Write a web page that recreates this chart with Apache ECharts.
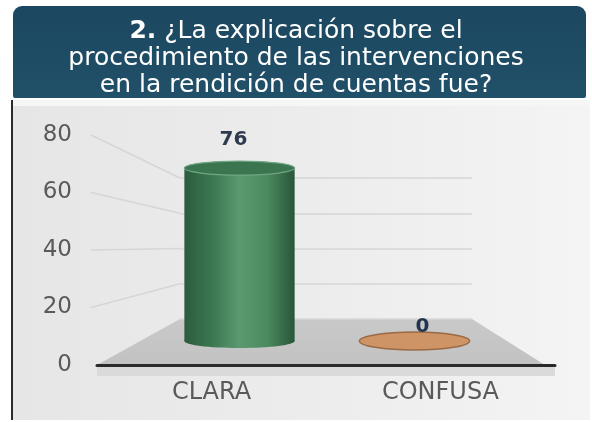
<!DOCTYPE html>
<html>
<head>
<meta charset="utf-8">
<script src="https://cdn.jsdelivr.net/npm/echarts@6/dist/echarts.min.js"></script>
<style>
html,body{margin:0;padding:0;background:#fff;}
#c{width:592px;height:422px;}
</style>
</head>
<body>
<div id="c"></div>
<script>
// ---- data ----
const categories = ['CLARA', 'CONFUSA'];
const values = [76, 0];
const yTicks = [0, 20, 40, 60, 80];
const titleText = '{b|2.} ¿La explicación sobre el\nprocedimiento de las intervenciones\nen la rendición de cuentas fue?';

// ---- styles / layout ----
const fillColors = [
  ['#2b5c3d', '#3b7751', '#5b9a6f', '#4b8a5f', '#285639'],
  ['#9a6a45', '#b57d52', '#cf9466', '#c08757', '#94653f']
];
const FRONT = {left: 97, right: 37, top: 135, bottom: 57};
const MID = {left: 152, right: 90, top: 159, bottom: 81};
const BACK = {left: 180, right: 120, top: 178, bottom: 103};
const W = 592, H = 422;

const chart = echarts.init(document.getElementById('c'), null, {renderer: 'canvas'});

function grad(cols) {
  return new echarts.graphic.LinearGradient(0, 0, 1, 0,
    cols.map((c, i) => ({offset: i / (cols.length - 1), color: c})));
}

const yMax = yTicks[yTicks.length - 1];
const yInterval = yTicks[1] - yTicks[0];

const option = {
  animation: false,
  backgroundColor: '#ffffff',
  title: {
    text: titleText,
    left: 'center',
    top: 13,
    textStyle: {
      color: '#ffffff', fontSize: 25, fontWeight: 'normal', fontFamily: 'DejaVu Sans',
      lineHeight: 27, align: 'center',
      rich: {b: {color: '#ffffff', fontSize: 25, fontWeight: 'bold', fontFamily: 'DejaVu Sans', lineHeight: 27}}
    }
  },
  grid: [
    Object.assign({containLabel: false}, FRONT),
    Object.assign({containLabel: false}, MID),
    Object.assign({containLabel: false}, BACK)
  ],
  xAxis: [
    {gridIndex: 0, type: 'category', data: categories,
      axisLine: {show: true, lineStyle: {color: '#2a2a2a', width: 3}},
      axisTick: {show: false},
      axisLabel: {color: '#5a5a5a', fontSize: 24, fontFamily: 'DejaVu Sans', margin: 16}},
    {gridIndex: 1, type: 'category', data: categories, show: false},
    {gridIndex: 2, type: 'category', data: categories, show: false}
  ],
  yAxis: [
    {gridIndex: 0, type: 'value', min: 0, max: yMax, interval: yInterval,
      axisLine: {show: false}, axisTick: {show: false}, splitLine: {show: false},
      axisLabel: {color: '#5a5a5a', fontSize: 23, fontFamily: 'DejaVu Sans', margin: 25}},
    {gridIndex: 1, type: 'value', min: 0, max: yMax, interval: yInterval, show: false},
    {gridIndex: 2, type: 'value', min: 0, max: yMax, interval: yInterval,
      axisLine: {show: false}, axisTick: {show: false}, axisLabel: {show: false},
      splitLine: {show: true, lineStyle: {color: '#d6d6d6', width: 1.5}}}
  ],
  series: [{
    type: 'custom',
    xAxisIndex: 1, yAxisIndex: 1,
    z: 5,
    data: categories.map((c, i) => [i, values[i]]),
    renderItem: function (params, api) {
      const idx = api.value(0), v = api.value(1);
      const top = api.coord([idx, v]);
      const base = api.coord([idx, 0]);
      const w = api.size([1, 0])[0] * 0.63;
      const rx = w / 2;
      const cols = fillColors[idx];
      const children = [];
      if (v > 0) {
        const ry = 7;
        children.push({type: 'ellipse', shape: {cx: base[0], cy: base[1], rx: rx, ry: ry},
          style: {fill: grad(cols)}});
        children.push({type: 'rect', shape: {x: base[0] - rx, y: top[1], width: w, height: base[1] - top[1]},
          style: {fill: grad(cols)}});
        children.push({type: 'ellipse', shape: {cx: top[0], cy: top[1], rx: rx, ry: ry},
          style: {fill: '#3b7550', stroke: '#6ea681', lineWidth: 1.2}});
        children.push({type: 'text', x: top[0] - 6, y: top[1] - 28,
          style: {text: String(v), fill: '#2d3b4d', font: 'bold 20px "DejaVu Sans"', align: 'center', verticalAlign: 'middle'}});
      } else {
        const ry = 9;
        children.push({type: 'ellipse', shape: {cx: base[0], cy: base[1], rx: rx, ry: ry},
          style: {fill: cols[2], stroke: cols[0], lineWidth: 1.5}});
        children.push({type: 'text', x: base[0] + 8, y: base[1] - 14,
          style: {text: String(v), fill: '#1f3550', font: 'bold 20px "DejaVu Sans"', align: 'center', verticalAlign: 'middle'}});
      }
      return {type: 'group', children: children};
    }
  }]
};
chart.setOption(option);

// decorative 3D frame built from the axes' own pixel mapping
const fy = v => chart.convertToPixel({yAxisIndex: 0}, v);
const by = v => chart.convertToPixel({yAxisIndex: 2}, v);
const fL = FRONT.left, fR = W - FRONT.right;
const bL = BACK.left, bR = W - BACK.right;

const graphics = [
  {type: 'rect', z: -10, shape: {x: 12, y: 100, width: 578, height: 320},
    style: {fill: new echarts.graphic.LinearGradient(0, 0, 1, 0, [
      {offset: 0, color: '#e6e6e6'}, {offset: 0.5, color: '#ececec'}, {offset: 1, color: '#f4f4f4'}])}},
  {type: 'rect', z: -9, shape: {x: 12, y: 100, width: 578, height: 6}, style: {fill: '#f6f6f6'}},
  {type: 'line', z: -8, shape: {x1: 12, y1: 100, x2: 12, y2: 420}, style: {stroke: '#2b2b2b', lineWidth: 2}},
  {type: 'rect', z: -8, shape: {x: 13, y: 6, width: 573, height: 92, r: [9, 9, 2, 2]},
    style: {fill: new echarts.graphic.LinearGradient(0, 0, 0, 1, [
      {offset: 0, color: '#1c4760'}, {offset: 1, color: '#215069'}])}},
  {type: 'polygon', z: -5, shape: {points: [[fL, fy(0)], [bL, by(0)], [bR, by(0)], [fR - 10, fy(0)]]},
    style: {fill: new echarts.graphic.LinearGradient(0, 0, 0, 1, [
      {offset: 0, color: '#c9c9c9'}, {offset: 1, color: '#c2c2c2'}])}},
  {type: 'rect', z: -5, shape: {x: fL, y: fy(0) + 2, width: fR - fL, height: 9}, style: {fill: '#dadada'}}
];
yTicks.forEach(t => {
  if (t === 0) return;
  graphics.push({type: 'line', z: -6, shape: {x1: fL - 6, y1: fy(t), x2: bL, y2: by(t)},
    style: {stroke: '#d6d6d6', lineWidth: 1.5}});
});
chart.setOption({graphic: graphics});
</script>
</body>
</html>
